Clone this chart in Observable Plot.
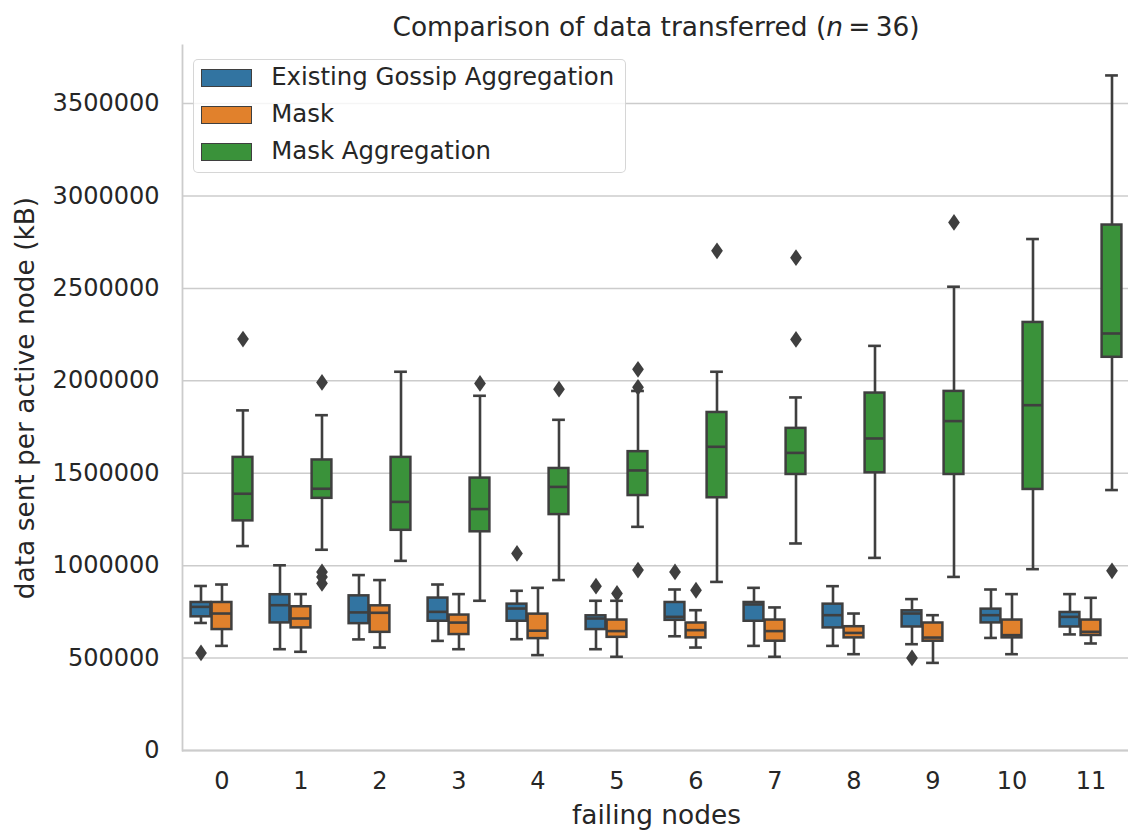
<!DOCTYPE html>
<html>
<head>
<meta charset="utf-8">
<script src="https://cdn.jsdelivr.net/npm/d3@7"></script>
<script src="https://cdn.jsdelivr.net/npm/@observablehq/plot@0.6"></script>
<style>
  html, body { margin: 0; padding: 0; background: #fff; overflow: hidden; }
  body { width: 1128px; height: 832px; font-family: "DejaVu Sans", sans-serif; color: #262626; }
  #wrap { position: relative; width: 1133px; height: 832px; }
  #title { position: absolute; left: 179px; width: 954px; top: 12px; line-height: 30px; font-size: 26.4px; text-align: center; white-space: nowrap; }
  #chart { position: absolute; left: 0; top: 40px; }
  #legend { position: absolute; left: 192.7px; top: 59.3px; width: 433.3px; height: 114px; box-sizing: border-box;
            border: 1.5px solid rgba(204,204,204,0.8); border-radius: 5px; background: rgba(255,255,255,0.8); }
  .sw { position: absolute; left: 7.5px; width: 50.6px; height: 17.7px; box-sizing: border-box; border: 1.5px solid #3f3f3f; }
  .lt { position: absolute; left: 77.5px; font-size: 24.4px; line-height: 17.7px; white-space: nowrap; }
</style>
</head>
<body>
<div id="wrap">
  <div id="title">Comparison of data transferred (<i>n</i>&#8201;=&#8201;36)</div>
  <div id="chart"></div>
  <div id="legend"></div>
</div>
<script>
// ---- data ----
const categories = ["0","1","2","3","4","5","6","7","8","9","10","11"];
const seriesNames = ["Existing Gossip Aggregation", "Mask", "Mask Aggregation"];
const seriesColors = ["#3274a1", "#e1812c", "#3a923a"];
const yTicks = [0, 500000, 1000000, 1500000, 2000000, 2500000, 3000000, 3500000];

// Existing Gossip Aggregation
const gossipQ1     = [720000, 687000, 683000, 696000, 696000, 651000, 701000, 696000, 660000, 665000, 687000, 665000];
const gossipMedian = [777000, 786000, 747000, 750000, 768000, 714000, 723000, 790000, 732000, 741000, 732000, 723000];
const gossipQ3     = [804000, 846000, 840000, 828000, 795000, 732000, 804000, 804000, 795000, 759000, 768000, 750000];
const gossipLow    = [690000, 548000, 601000, 593000, 602000, 548000, 618000, 566000, 566000, 575000, 609000, 628000];
const gossipHigh   = [890000, 1002000, 949000, 898000, 864000, 810000, 871000, 880000, 889000, 819000, 871000, 846000];
const gossipOutliers = [["0", 528000], ["4", 1066000], ["5", 889000], ["6", 966000], ["9", 501000]];

// Mask
const maskQ1     = [651000, 660000, 636000, 624000, 602000, 609000, 606000, 588000, 606000, 588000, 606000, 619000];
const maskMedian = [741000, 714000, 745000, 692000, 648000, 646000, 651000, 646000, 636000, 611000, 624000, 642000];
const maskQ3     = [804000, 781000, 786000, 736000, 741000, 709000, 693000, 709000, 673000, 693000, 709000, 709000];
const maskLow    = [566000, 534000, 557000, 548000, 516000, 507000, 557000, 507000, 521000, 474000, 521000, 579000];
const maskHigh   = [898000, 846000, 922000, 846000, 880000, 810000, 759000, 774000, 741000, 732000, 846000, 826000];
const maskOutliers = [["5", 850000], ["6", 867000]];

// Mask Aggregation
const aggQ1     = [1239000, 1361000, 1188000, 1180000, 1273000, 1376000, 1364000, 1490000, 1499000, 1490000, 1409000, 2124000];
const aggMedian = [1389000, 1416000, 1345000, 1306000, 1426000, 1515000, 1643000, 1610000, 1688000, 1782000, 1868000, 2256000];
const aggQ3     = [1589000, 1575000, 1589000, 1477000, 1529000, 1620000, 1832000, 1746000, 1937000, 1946000, 2319000, 2846000];
const aggLow    = [1106000, 1086000, 1026000, 810000, 922000, 1210000, 912000, 1120000, 1042000, 939000, 981000, 1409000];
const aggHigh   = [1840000, 1814000, 2049000, 1919000, 1789000, 1945000, 2049000, 1910000, 2189000, 2509000, 2767000, 3652000];
const aggOutliers = [["0", 2226000], ["1", 1991000], ["1", 966000], ["1", 939000], ["1", 904000], ["3", 1986000],
  ["4", 1955000], ["5", 2062000], ["5", 1965000], ["5", 976000], ["6", 2703000], ["7", 2666000], ["7", 2224000],
  ["9", 2857000], ["11", 972000]];

// ---- tables ----
const stats = [
  [gossipQ1, gossipMedian, gossipQ3, gossipLow, gossipHigh],
  [maskQ1, maskMedian, maskQ3, maskLow, maskHigh],
  [aggQ1, aggMedian, aggQ3, aggLow, aggHigh]
];
const boxes = [];
stats.forEach(([q1, med, q3, lo, hi], s) => {
  categories.forEach((c, i) => {
    boxes.push({cat: c, series: seriesNames[s], q1: q1[i], med: med[i], q3: q3[i], lo: lo[i], hi: hi[i]});
  });
});
const fliers = [];
[gossipOutliers, maskOutliers, aggOutliers].forEach((list, s) => {
  list.forEach(([c, v]) => fliers.push({cat: c, series: seriesNames[s], value: v}));
});

const edge = "#3f3f3f";
const thinDiamond = {
  draw(ctx, size) {
    const r = Math.sqrt(size / Math.PI), w = r * 0.7;
    ctx.moveTo(0, -r); ctx.lineTo(w, 0); ctx.lineTo(0, r); ctx.lineTo(-w, 0); ctx.closePath();
  }
};

const plot = Plot.plot({
  width: 1133,
  height: 792,
  marginLeft: 179,
  marginRight: 0,
  marginTop: 5,
  marginBottom: 82,
  style: {fontFamily: "DejaVu Sans", fontSize: "24px", color: "#262626", background: "transparent", overflow: "visible"},
  fx: {domain: categories, padding: 0},
  x: {type: "band", domain: seriesNames, paddingInner: 0, paddingOuter: 0.375, axis: null},
  y: {domain: [0, 3814000]},
  color: {domain: seriesNames, range: seriesColors},
  marks: [
    Plot.gridY(yTicks, {stroke: "#cccccc", strokeOpacity: 1, strokeWidth: 1.5}),
    Plot.ruleY([0], {stroke: "#cccccc", strokeWidth: 1.8}),
    Plot.axisY(yTicks, {tickSize: 0, tickPadding: 23, tickFormat: d => String(d), fontSize: 24, label: null}),
    Plot.axisY([], {label: "data sent per active node (kB)", labelAnchor: "center", labelArrow: "none", labelOffset: 167, fontSize: 26.4, tickSize: 0}),
    Plot.axisFx({anchor: "bottom", tickSize: 0, tickPadding: 21, fontSize: 24, label: null}),
    Plot.axisFx([], {anchor: "bottom", label: "failing nodes", labelAnchor: "center", labelArrow: "none", labelOffset: 73, fontSize: 26.4, tickSize: 0}),
    Plot.ruleX(boxes, {fx: "cat", x: "series", y1: "lo", y2: "hi", stroke: edge, strokeWidth: 2.6}),
    Plot.barY(boxes, {fx: "cat", x: "series", y1: "q1", y2: "q3", fill: "series", stroke: edge, strokeWidth: 2.5, inset: 0.6}),
    Plot.tickY(boxes, {fx: "cat", x: "series", y: "med", stroke: edge, strokeWidth: 2.6, inset: 0.6}),
    Plot.tickY(boxes, {fx: "cat", x: "series", y: "lo", stroke: edge, strokeWidth: 2.6, inset: 5.4, strokeLinecap: "square"}),
    Plot.tickY(boxes, {fx: "cat", x: "series", y: "hi", stroke: edge, strokeWidth: 2.6, inset: 5.4, strokeLinecap: "square"}),
    Plot.dot(fliers, {fx: "cat", x: "series", y: "value", symbol: thinDiamond, r: 8.4, fill: edge, stroke: "none"}),
    Plot.frame({anchor: "left", facet: "super", stroke: "#cccccc", strokeWidth: 1.8})
  ]
});
document.getElementById("chart").appendChild(plot);

// legend built from the plot's colour scale
const color = plot.scale("color");
const legend = document.getElementById("legend");
color.domain.forEach((name, i) => {
  const top = 9.2 + 36.7 * i;
  const sw = document.createElement("div");
  sw.className = "sw";
  sw.style.top = top + "px";
  sw.style.background = color.range[i];
  legend.appendChild(sw);
  const t = document.createElement("div");
  t.className = "lt";
  t.style.top = (top - 1) + "px";
  t.textContent = name;
  legend.appendChild(t);
});
</script>
</body>
</html>
